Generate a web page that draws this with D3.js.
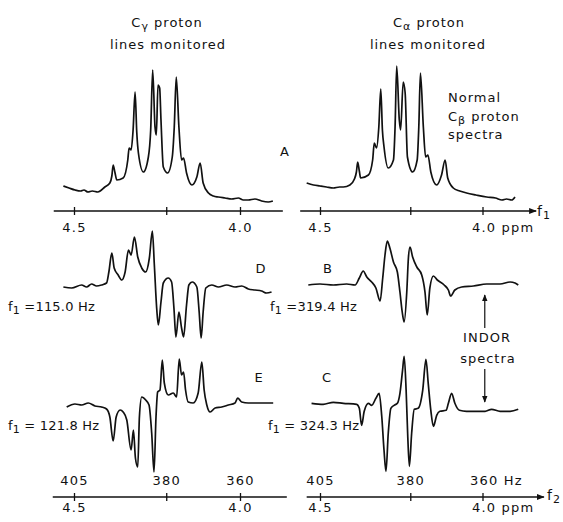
<!DOCTYPE html>
<html>
<head>
<meta charset="utf-8">
<script src="https://cdn.jsdelivr.net/npm/d3@7"></script>
<style>
  body { margin: 0; background: #fff; }
  text { font-family: "DejaVu Sans", sans-serif; fill: #111; }
</style>
</head>
<body>
<div id="chart"></div>
<script>
(function() {

  // spectra: [ppm, intensity]
  var normalGamma = [[4.532,16],[4.515,14],[4.497,12],[4.480,11],[4.470,12],[4.458,10],[4.445,11],[4.428,10],
    [4.407,15],[4.392,19],[4.386,26],[4.382,37],[4.377,30],[4.371,22],[4.352,24],[4.338,42],[4.334,54],[4.328,52],
    [4.322,72],[4.316,110],[4.311,70],[4.306,49],[4.291,30],[4.276,45],[4.269,72],[4.263,132],[4.256,75],[4.252,67],
    [4.247,117],[4.242,114],[4.238,82],[4.231,35],[4.218,29],[4.204,45],[4.198,75],[4.192,125],[4.184,75],[4.176,42],
    [4.170,44],[4.161,29],[4.145,17],[4.130,25],[4.120,39],[4.111,19],[4.095,9],[4.080,6],[4.065,5],[4.045,4],
    [4.025,3],[4.005,4],[3.990,2],[3.975,2],[3.955,3],[3.935,1],[3.915,0],[3.901,1]];

  var normalAlpha = [[4.541,19],[4.520,17],[4.500,16],[4.480,15],[4.459,14],[4.440,15],[4.428,15],[4.408,17],
    [4.394,23],[4.388,30],[4.384,40],[4.379,31],[4.375,24],[4.351,27],[4.338,42],[4.333,59],[4.326,54],[4.319,75],
    [4.313,113],[4.308,72],[4.303,55],[4.290,34],[4.274,42],[4.269,75],[4.264,136],[4.256,82],[4.252,72],[4.244,120],
    [4.238,109],[4.231,45],[4.215,30],[4.201,42],[4.196,75],[4.191,129],[4.182,75],[4.175,45],[4.168,47],[4.159,30],
    [4.141,17],[4.126,27],[4.115,42],[4.107,24],[4.090,14],[4.070,11],[4.049,9],[4.020,7],[3.987,5],[3.960,4],
    [3.940,2],[3.926,3],[3.910,2],[3.900,5]];

  var indorD = [[4.532,0],[4.507,-1],[4.477,2],[4.462,0],[4.447,3],[4.432,1],[4.417,2],[4.402,4],[4.395,15],
    [4.386,34],[4.379,19],[4.367,12],[4.356,7],[4.346,15],[4.336,37],[4.328,32],[4.318,50],[4.308,30],[4.296,19],
    [4.284,15],[4.273,29],[4.264,56],[4.258,22],[4.251,-21],[4.246,-38],[4.238,-15],[4.231,4],[4.216,9],[4.206,5],
    [4.199,-21],[4.193,-50],[4.184,-25],[4.176,-41],[4.170,-50],[4.161,-18],[4.154,2],[4.144,5],[4.130,0],
    [4.123,-25],[4.117,-51],[4.111,-25],[4.103,-1],[4.085,2],[4.065,0],[4.040,2],[4.015,0],[3.995,1],[3.975,-2],
    [3.955,-3],[3.935,-4],[3.920,-6],[3.905,-5]];

  var indorB = [[4.536,0],[4.500,1],[4.459,0],[4.418,1],[4.392,0],[4.379,7],[4.367,14],[4.356,8],[4.341,3],
    [4.328,-3],[4.315,-16],[4.307,7],[4.300,30],[4.293,44],[4.285,37],[4.274,23],[4.262,13],[4.254,-7],[4.247,-27],
    [4.241,-37],[4.233,-7],[4.228,27],[4.223,38],[4.215,28],[4.202,18],[4.187,10],[4.177,-7],[4.170,-30],[4.162,-3],
    [4.151,9],[4.139,5],[4.118,0],[4.105,-5],[4.098,-11],[4.085,-5],[4.064,-2],[4.028,-1],[3.987,1],[3.946,1],
    [3.915,3],[3.900,2],[3.890,0]];

  var indorE = [[4.522,-2],[4.497,1],[4.477,0],[4.457,2],[4.437,-1],[4.417,-2],[4.402,-4],[4.392,-12],[4.382,-36],
    [4.373,-12],[4.361,-5],[4.352,-7],[4.341,-15],[4.328,-45],[4.321,-25],[4.315,-53],[4.308,-62],[4.303,-12],
    [4.296,8],[4.284,5],[4.274,0],[4.266,-28],[4.259,-67],[4.253,-12],[4.248,13],[4.241,15],[4.234,45],[4.228,22],
    [4.216,10],[4.201,12],[4.191,8],[4.183,46],[4.176,30],[4.170,33],[4.164,15],[4.156,3],[4.141,2],[4.126,12],
    [4.115,43],[4.108,15],[4.100,0],[4.090,-7],[4.075,-3],[4.055,-2],[4.035,0],[4.015,2],[4.007,7],[3.995,3],
    [3.975,2],[3.955,2],[3.935,2],[3.915,2],[3.900,2]];

  var indorC = [[4.526,0],[4.490,-1],[4.459,1],[4.428,0],[4.387,-1],[4.379,-5],[4.372,-22],[4.364,-8],[4.351,0],
    [4.341,-2],[4.328,5],[4.318,10],[4.310,-13],[4.303,-47],[4.297,-68],[4.290,-30],[4.282,-5],[4.272,-2],
    [4.262,0],[4.254,10],[4.246,33],[4.241,47],[4.235,13],[4.230,-33],[4.225,-63],[4.218,-30],[4.210,-6],
    [4.198,-5],[4.184,13],[4.174,44],[4.167,20],[4.159,-7],[4.151,-23],[4.141,-12],[4.131,-8],[4.112,-7],
    [4.105,0],[4.095,10],[4.085,0],[4.071,-7],[4.049,-8],[4.018,-8],[3.992,-8],[3.972,-6],[3.946,-8],
    [3.915,-8],[3.890,-6]];

  var ppmTicks = [4.5, 4.2222, 4.0];
  var hzTicks = [405, 380, 360];

  var width = 563, height = 522;

  var svg = d3.select("#chart").append("svg")
    .attr("width", width)
    .attr("height", height);

  svg.append("defs").append("marker")
    .attr("id", "arr")
    .attr("viewBox", "0 0 10 10")
    .attr("refX", 9).attr("refY", 5)
    .attr("markerWidth", 6).attr("markerHeight", 6)
    .attr("orient", "auto")
    .append("path").attr("d", "M0,1L10,5L0,9Z").attr("fill", "#111");

  var xLeft = d3.scaleLinear().domain([4.5, 4.0]).range([74, 240]);
  var xRight = d3.scaleLinear().domain([4.5, 4.0]).range([320, 482.5]);

  var panels = [
    {data: normalGamma, x: xLeft, zero: 202},
    {data: normalAlpha, x: xRight, zero: 202},
    {data: indorD, x: xLeft, zero: 287},
    {data: indorB, x: xRight, zero: 285},
    {data: indorE, x: xLeft, zero: 405},
    {data: indorC, x: xRight, zero: 403.3}
  ];

  panels.forEach(function(p) {
    var y = d3.scaleLinear().domain([0, 100]).range([p.zero, p.zero - 100]);
    var line = d3.line()
      .x(function(d) { return p.x(d[0]); })
      .y(function(d) { return y(d[1]); })
      .curve(d3.curveMonotoneX);
    svg.append("path")
      .datum(p.data)
      .attr("d", line)
      .attr("fill", "none")
      .attr("stroke", "#111")
      .attr("stroke-width", 1.7)
      .attr("stroke-linejoin", "round");
  });

  // ppm axes
  function ppmAxis(x, yPos, ext, unit, arrow) {
    var g = svg.append("g").attr("transform", "translate(0," + yPos + ")");
    g.call(d3.axisBottom(x).tickValues(ppmTicks).tickSize(4)
      .tickFormat(function(d) { return d === 4.5 ? "4.5" : d === 4.0 ? "4.0" : ""; }));
    g.select(".domain").remove();
    g.selectAll(".tick line").attr("y1", -4).attr("y2", 4).attr("stroke", "#111").attr("stroke-width", 1.3);
    g.selectAll(".tick text").attr("dy", null).attr("y", 21)
      .style("font-size", "13px").style("letter-spacing", "1.2px");
    if (unit) {
      g.selectAll(".tick text").filter(function(d) { return d === 4.0; })
        .text("4.0 ppm").attr("text-anchor", "start").attr("x", -11);
    }
    var l = g.append("line")
      .attr("x1", x(ext[0])).attr("x2", x(ext[1]))
      .attr("stroke", "#111").attr("stroke-width", 1.3);
    if (arrow) l.attr("marker-end", "url(#arr)");
    return g;
  }

  ppmAxis(xLeft, 211, [4.561, 3.871], false, false);
  ppmAxis(xRight, 211, [4.561, 3.835], true, true);

  // bottom f2 axes: Hz above, ppm below
  function f2Axis(x, yPos, ext, unit, arrow) {
    var hz = d3.scaleLinear().domain([405, 360]).range([x(4.5), x(4.0)]);
    var g = ppmAxis(x, yPos, ext, unit, arrow);
    g.selectAll(".tick text").attr("y", 15);
    var h = svg.append("g").attr("transform", "translate(0," + yPos + ")");
    h.call(d3.axisTop(hz).tickValues(hzTicks).tickSize(0));
    h.select(".domain").remove();
    h.selectAll(".tick text").attr("dy", null).attr("y", -12)
      .style("font-size", "13px").style("letter-spacing", "1.2px");
    if (unit) {
      h.selectAll(".tick text").filter(function(d) { return d === 360; })
        .text("360 Hz").attr("text-anchor", "start").attr("x", -13);
    }
  }

  f2Axis(xLeft, 497, [4.564, 3.859], false, false);
  f2Axis(xRight, 497, [4.541, 3.811], true, true);

  // text helpers
  function sub(parent, main, s, rest) {
    parent.append("tspan").text(main);
    parent.append("tspan").text(s).attr("dy", 3).style("font-size", "11px");
    if (rest) parent.append("tspan").text(rest).attr("dy", -3);
  }
  function label(x, y, anchor) {
    return svg.append("text").attr("x", x).attr("y", y)
      .attr("text-anchor", anchor || "start")
      .style("font-size", "13px").style("letter-spacing", "1px");
  }

  sub(label(167, 27, "middle"), "C", "γ", " proton");
  label(168, 49, "middle").text("lines monitored");
  sub(label(429, 27, "middle"), "C", "α", " proton");
  label(428, 49, "middle").text("lines monitored");

  label(448, 102).text("Normal");
  sub(label(448, 121), "C", "β", " proton");
  label(448, 139).text("spectra");

  label(285, 156, "middle").text("A");
  label(261, 273, "middle").text("D");
  label(328, 273, "middle").text("B");
  label(259, 382, "middle").text("E");
  label(327, 382, "middle").text("C");

  sub(label(8, 311).style("letter-spacing", "0.2px"), "f", "1", " =115.0 Hz");
  sub(label(270, 311).style("letter-spacing", "0.2px"), "f", "1", " =319.4 Hz");
  sub(label(8, 430).style("letter-spacing", "0.2px"), "f", "1", " = 121.8 Hz");
  sub(label(268, 430).style("letter-spacing", "0.2px"), "f", "1", " = 324.3 Hz");

  sub(label(537, 216).style("font-size", "14px"), "f", "1");
  sub(label(547, 500).style("font-size", "14px"), "f", "2");

  label(487, 342, "middle").text("INDOR");
  label(488, 363, "middle").text("spectra");

  var ax = xRight(3.993);
  svg.append("line").attr("x1", ax).attr("x2", ax).attr("y1", 328).attr("y2", 295)
    .attr("stroke", "#111").attr("stroke-width", 1.2).attr("marker-end", "url(#arr)");
  svg.append("line").attr("x1", ax).attr("x2", ax).attr("y1", 369).attr("y2", 402)
    .attr("stroke", "#111").attr("stroke-width", 1.2).attr("marker-end", "url(#arr)");

})();
</script>
</body>
</html>
